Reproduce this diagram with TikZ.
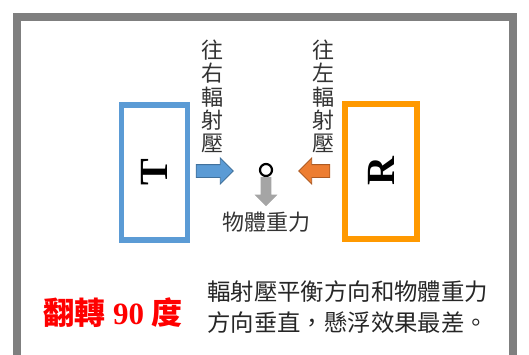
\documentclass[tikz,border=0pt]{standalone}
\usepackage{fontspec}
\setmainfont{Liberation Serif}
\newfontfamily\cjk{Noto Sans CJK TC}
\usetikzlibrary{positioning,shapes.arrows}
\definecolor{tblue}{HTML}{5B9BD5}
\definecolor{tbluedark}{HTML}{41719C}
\definecolor{rorange}{HTML}{FF9900}
\definecolor{presorange}{HTML}{ED7D31}
\definecolor{presorangedark}{HTML}{AE5A21}
\definecolor{gravgray}{HTML}{A5A5A5}
\definecolor{framegray}{HTML}{7F7F7F}

\begin{document}
\begin{tikzpicture}[
  x=1pt, y=-1pt,
  devbox/.style={draw, line width=5.5pt, rotate=90, inner sep=0pt,
                 minimum width=135pt, minimum height=66pt,
                 font=\fontsize{40}{40}\selectfont\bfseries},
  blockarr/.style={single arrow, single arrow head extend=6.5pt,
                   inner xsep=0pt, inner ysep=6pt, line width=0.8pt,
                   minimum height=35pt},
  vlabel/.style={align=center, inner sep=0pt, text=black!80,
                 font=\cjk\fontsize{22}{23.4}\selectfont}
]
\path[use as bounding box, clip] (0,0) rectangle (529,354);
\draw[framegray, line width=8pt] (17,17) rectangle (513,380);
% transmitter and reflector
\node[devbox, draw=tblue] (T) at (154.5,172.5) {T};
\node[devbox, draw=rorange, minimum height=72pt] (R) at (381,171.5) {R};
% radiation pressure
\node[blockarr, fill=tblue, draw=tbluedark, minimum height=37pt] (pushR) at (211.5,171) {};
\node[blockarr, fill=presorange, draw=presorangedark, minimum height=31pt,
      shape border rotate=180] (pushL) at (317.5,171) {};
\node[vlabel] (pushRlbl) at (212,96.5) {往\\右\\輻\\射\\壓};
\node[vlabel] (pushLlbl) at (323,96.5) {往\\左\\輻\\射\\壓};
% levitated object and gravity
\node[circle, draw, line width=2.2pt, minimum size=12pt, inner sep=0pt] (obj) at (266,170) {};
\node[blockarr, fill=gravgray, draw=gravgray, rotate=-90, anchor=tail,
      inner ysep=4.5pt, single arrow head extend=5.5pt, minimum height=28pt]
      (grav) at (obj.south) {};
\node[vlabel, below=6pt of grav.tip] (gravlbl) {物體重力};
% conclusion
\node[text=red, font=\cjk\bfseries\fontsize{31}{31}\selectfont] (flip) at (113,313)
  {翻轉 {\rmfamily 90} 度};
\node[anchor=west, align=left, inner sep=0pt, text=black!85,
      font=\cjk\fontsize{23.4}{31}\selectfont] (desc) at (207,307.5)
  {輻射壓平衡方向和物體重力\\方向垂直，懸浮效果最差。};
\end{tikzpicture}
\end{document}
